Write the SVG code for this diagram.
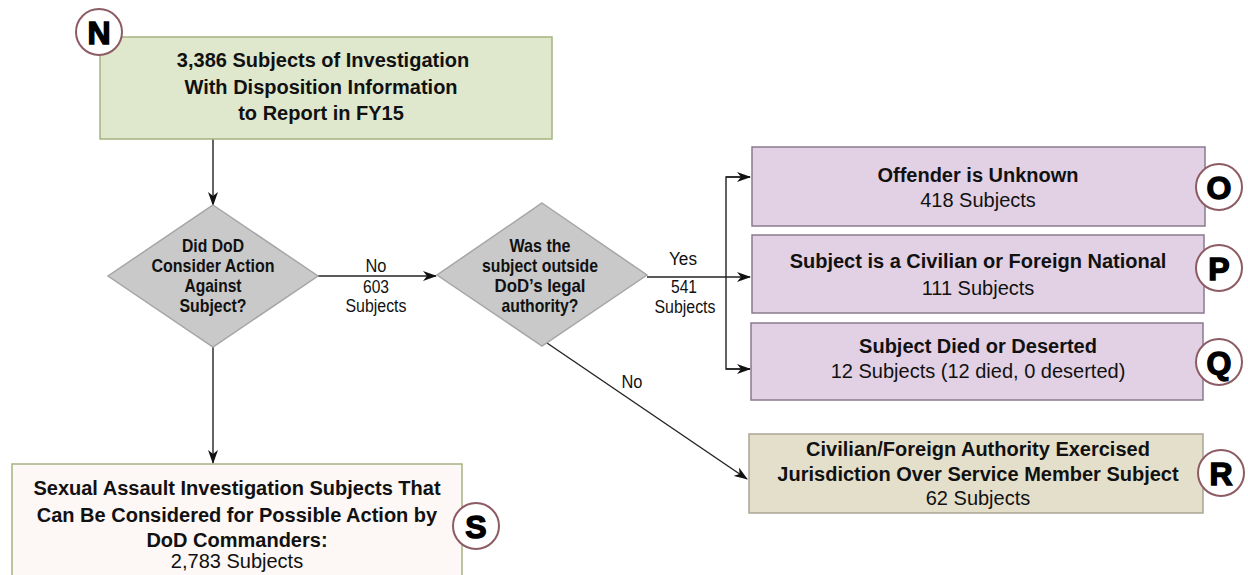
<svg xmlns="http://www.w3.org/2000/svg" width="1248" height="575" viewBox="0 0 1248 575">
<style>
.t{font-family:"Liberation Sans",Arial,sans-serif;font-size:20px;fill:#111;text-anchor:middle}
.b{font-weight:bold}
.nw{font-family:"Liberation Sans Narrow","Liberation Sans",Arial,sans-serif;fill:#111;text-anchor:middle}
.dq{font-size:19px;font-weight:bold}
.lb{font-size:18px}
.green{fill:#dfe8cd;stroke:#a6b381;stroke-width:1.5}
.pink{fill:#fdf7f6;stroke:#a6b381;stroke-width:1.5}
.purple{fill:#e2d1e4;stroke:#8a7a8e;stroke-width:1.5}
.beige{fill:#e4dfcb;stroke:#a9a695;stroke-width:1.5}
.dia{fill:#c9c9c9;stroke:#a6a6a6;stroke-width:1.5}
.circ{fill:#fff;stroke:#8d5b63;stroke-width:2}
.let{font-family:"Liberation Sans",Arial,sans-serif;font-size:32px;font-weight:bold;fill:#000;stroke:#000;stroke-width:1.4;text-anchor:middle}
.c{fill:none;stroke:#222;stroke-width:1.4}
</style>
<defs>
<marker id="ah" viewBox="0 0 14 10" refX="13" refY="5" markerWidth="14" markerHeight="10" markerUnits="userSpaceOnUse" orient="auto">
<path d="M0,0 L14,5 L0,10 L4,5 z" fill="#111"/>
</marker>
</defs>

<g id="connectors">
<line class="c" x1="213" y1="139" x2="213" y2="205" marker-end="url(#ah)"/>
<line class="c" x1="318" y1="276" x2="436" y2="276" marker-end="url(#ah)"/>
<line class="c" x1="647" y1="277" x2="750" y2="277" marker-end="url(#ah)"/>
<polyline class="c" points="750,177 726,177 726,369 750,369"/>
<line class="c" x1="726" y1="177" x2="750" y2="177" marker-end="url(#ah)"/>
<line class="c" x1="726" y1="369" x2="750" y2="369" marker-end="url(#ah)"/>
<line class="c" x1="547" y1="343" x2="747" y2="479" marker-end="url(#ah)"/>
<line class="c" x1="213" y1="347" x2="213" y2="463" marker-end="url(#ah)"/>
<text class="nw lb" x="376" y="272" textLength="21" lengthAdjust="spacingAndGlyphs">No</text>
<text class="nw lb" x="376" y="293" textLength="26" lengthAdjust="spacingAndGlyphs">603</text>
<text class="nw lb" x="376" y="312" textLength="61" lengthAdjust="spacingAndGlyphs">Subjects</text>
<text class="nw lb" x="683" y="265" textLength="28" lengthAdjust="spacingAndGlyphs">Yes</text>
<text class="nw lb" x="684" y="293" textLength="26" lengthAdjust="spacingAndGlyphs">541</text>
<text class="nw lb" x="685" y="313" textLength="61" lengthAdjust="spacingAndGlyphs">Subjects</text>
<text class="nw lb" x="632" y="388" textLength="21" lengthAdjust="spacingAndGlyphs">No</text>
</g>

<g id="node-N">
<rect class="green" x="100" y="37" width="452" height="102"/>
<text class="t b" x="323" y="67">3,386 Subjects of Investigation</text>
<text class="t b" x="321" y="94">With Disposition Information</text>
<text class="t b" x="321" y="120">to Report in FY15</text>
<circle class="circ" cx="99" cy="32" r="23"/>
<text class="let" x="99" y="44">N</text>
</g>

<g id="node-D1">
<polygon class="dia" points="213,205 318,276 213,347 108,276"/>
<text class="nw dq" x="213" y="252" textLength="62" lengthAdjust="spacingAndGlyphs">Did DoD</text>
<text class="nw dq" x="213" y="272" textLength="123" lengthAdjust="spacingAndGlyphs">Consider Action</text>
<text class="nw dq" x="213" y="292" textLength="57" lengthAdjust="spacingAndGlyphs">Against</text>
<text class="nw dq" x="213" y="312" textLength="67" lengthAdjust="spacingAndGlyphs">Subject?</text>
</g>

<g id="node-D2">
<polygon class="dia" points="542,203 647,275 542,346 437,275"/>
<text class="nw dq" x="540" y="252" textLength="61" lengthAdjust="spacingAndGlyphs">Was the</text>
<text class="nw dq" x="540" y="272" textLength="116" lengthAdjust="spacingAndGlyphs">subject outside</text>
<text class="nw dq" x="540" y="292" textLength="91" lengthAdjust="spacingAndGlyphs">DoD’s legal</text>
<text class="nw dq" x="540" y="312" textLength="77" lengthAdjust="spacingAndGlyphs">authority?</text>
</g>

<g id="node-O">
<rect class="purple" x="752" y="147" width="453" height="79"/>
<text class="t b" x="978" y="182">Offender is Unknown</text>
<text class="t" x="978" y="207">418 Subjects</text>
<circle class="circ" cx="1219" cy="187" r="23"/>
<text class="let" x="1219" y="199">O</text>
</g>

<g id="node-P">
<rect class="purple" x="752" y="235" width="452" height="78"/>
<text class="t b" x="978" y="268">Subject is a Civilian or Foreign National</text>
<text class="t" x="978" y="295">111 Subjects</text>
<circle class="circ" cx="1219" cy="268" r="23"/>
<text class="let" x="1219" y="280">P</text>
</g>

<g id="node-Q">
<rect class="purple" x="751" y="323" width="452" height="77"/>
<text class="t b" x="978" y="353">Subject Died or Deserted</text>
<text class="t" x="978" y="378">12 Subjects (12 died, 0 deserted)</text>
<circle class="circ" cx="1219" cy="362" r="23"/>
<text class="let" x="1219" y="374">Q</text>
</g>

<g id="node-R">
<rect class="beige" x="749" y="434" width="454" height="79"/>
<text class="t b" x="978" y="456">Civilian/Foreign Authority Exercised</text>
<text class="t b" x="978" y="481">Jurisdiction Over Service Member Subject</text>
<text class="t" x="978" y="505">62 Subjects</text>
<circle class="circ" cx="1221" cy="473" r="23"/>
<text class="let" x="1221" y="485">R</text>
</g>

<g id="node-S">
<rect class="pink" x="12" y="464" width="450" height="120"/>
<text class="t b" x="237" y="495">Sexual Assault Investigation Subjects That</text>
<text class="t b" x="237" y="522">Can Be Considered for Possible Action by</text>
<text class="t b" x="237" y="547">DoD Commanders:</text>
<text class="t" x="237" y="568">2,783 Subjects</text>
<circle class="circ" cx="476" cy="526" r="23"/>
<text class="let" x="476" y="538">S</text>
</g>
</svg>
